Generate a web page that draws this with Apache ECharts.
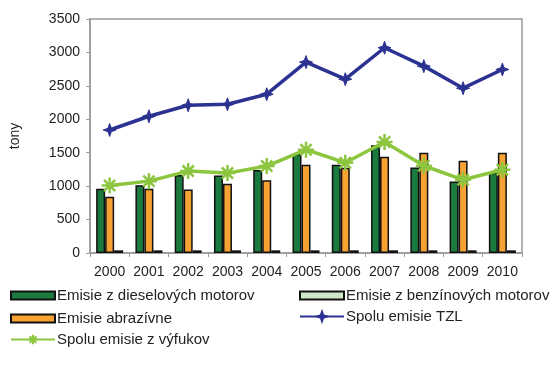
<!DOCTYPE html>
<html><head><meta charset="utf-8">
<script src="https://cdn.jsdelivr.net/npm/echarts@6/dist/echarts.min.js"></script>
<style>html,body{margin:0;padding:0;background:#fff}#c{width:553px;height:372px}</style>
</head><body><div id="c"></div>
<script>
const years = ['2000','2001','2002','2003','2004','2005','2006','2007','2008','2009','2010'];
const diesel = [960,1015,1165,1160,1240,1480,1320,1610,1280,1070,1200];
const benzin = [40,40,40,40,40,40,40,40,40,40,40];
const abraz = [840,960,950,1035,1090,1320,1275,1440,1500,1380,1500];
const tzl = [1840,2045,2210,2225,2375,2855,2600,3070,2795,2465,2745];
const vyfuk = [1010,1075,1225,1195,1300,1545,1350,1660,1305,1095,1245];
const names = ['Emisie z dieselových motorov','Emisie z benzínových motorov','Emisie abrazívne','Spolu emisie TZL','Spolu emisie z výfukov'];

const font = 'Liberation Sans, Arial, sans-serif';
const star4 = 'path://M5,0 L6.3,3.7 L10,5 L6.3,6.3 L5,10 L3.7,6.3 L0,5 L3.7,3.7 Z';
const aster = 'path://M0,5 L10,5 M5,0 L5,10 M1.5,1.5 L8.5,8.5 M8.5,1.5 L1.5,8.5';

function leg(name, left, top, isLine) {
  const o = {
    data: [name], left: left, top: top, orient: 'horizontal', padding: 0,
    itemWidth: 44, itemHeight: isLine ? 12 : 8, itemGap: 4,
    textStyle: {fontFamily: font, fontSize: 15, color: '#222', padding: [0,0,0,-3]},
    selectedMode: false
  };
  if (!isLine) o.icon = 'rect';
  return o;
}
const chart = echarts.init(document.getElementById('c'));
chart.setOption({
  animation: false,
  textStyle: {fontFamily: font},
  grid: {left: 89, right: 31, top: 19, bottom: 119, show: true, borderColor: '#9a9a9a', borderWidth: 1.5, containLabel: false},
  legend: [
    leg(names[0], 10, 288, false),
    leg(names[1], 299, 288, false),
    leg(names[2], 10, 311, false),
    leg(names[3], 299, 309, true),
    leg(names[4], 10, 332, true)
  ],
  xAxis: {
    type: 'category', data: years,
    axisLine: {lineStyle: {color: '#9a9a9a', width: 1.5}},
    axisTick: {show: true, length: 4, lineStyle: {color: '#9a9a9a'}},
    axisLabel: {fontSize: 14, color: '#222', margin: 12, fontFamily: font, interval: 0}
  },
  yAxis: {
    type: 'value', min: 0, max: 3500, interval: 500,
    name: 'tony', nameLocation: 'middle', nameGap: 68, nameRotate: 90,
    nameTextStyle: {fontSize: 14, color: '#222', fontFamily: font},
    axisLine: {show: true, lineStyle: {color: '#9a9a9a', width: 1.5}},
    axisTick: {show: true, length: 4, lineStyle: {color: '#9a9a9a'}},
    splitLine: {show: false},
    axisLabel: {fontSize: 14, color: '#222', margin: 10, fontFamily: font, formatter: v => String(v)}
  },
  series: [
    {name: names[0], type: 'bar', data: diesel, barWidth: 9, barGap: '0%',
     itemStyle: {color: '#1b7a3e', borderColor: '#111', borderWidth: 1.5}},
    {name: names[2], type: 'bar', data: abraz, barWidth: 9, barGap: '0%',
     itemStyle: {color: '#f7a233', borderColor: '#111', borderWidth: 1.5}},
    {name: names[1], type: 'bar', data: benzin, barWidth: 9, barGap: '0%',
     itemStyle: {color: '#cfe8c8', borderColor: '#111', borderWidth: 1.5}},
    {name: names[3], type: 'line', data: tzl, symbol: star4, symbolSize: 13,
     lineStyle: {color: '#2b3291', width: 3.5},
     itemStyle: {color: '#2b3291', borderColor: '#2b3291', borderWidth: 1}},
    {name: names[4], type: 'line', data: vyfuk, symbol: aster, symbolSize: 16,
     lineStyle: {color: '#8cc63f', width: 3.5},
     itemStyle: {color: 'rgba(0,0,0,0)', borderColor: '#8cc63f', borderWidth: 2.5}}
  ]
});
</script></body></html>
